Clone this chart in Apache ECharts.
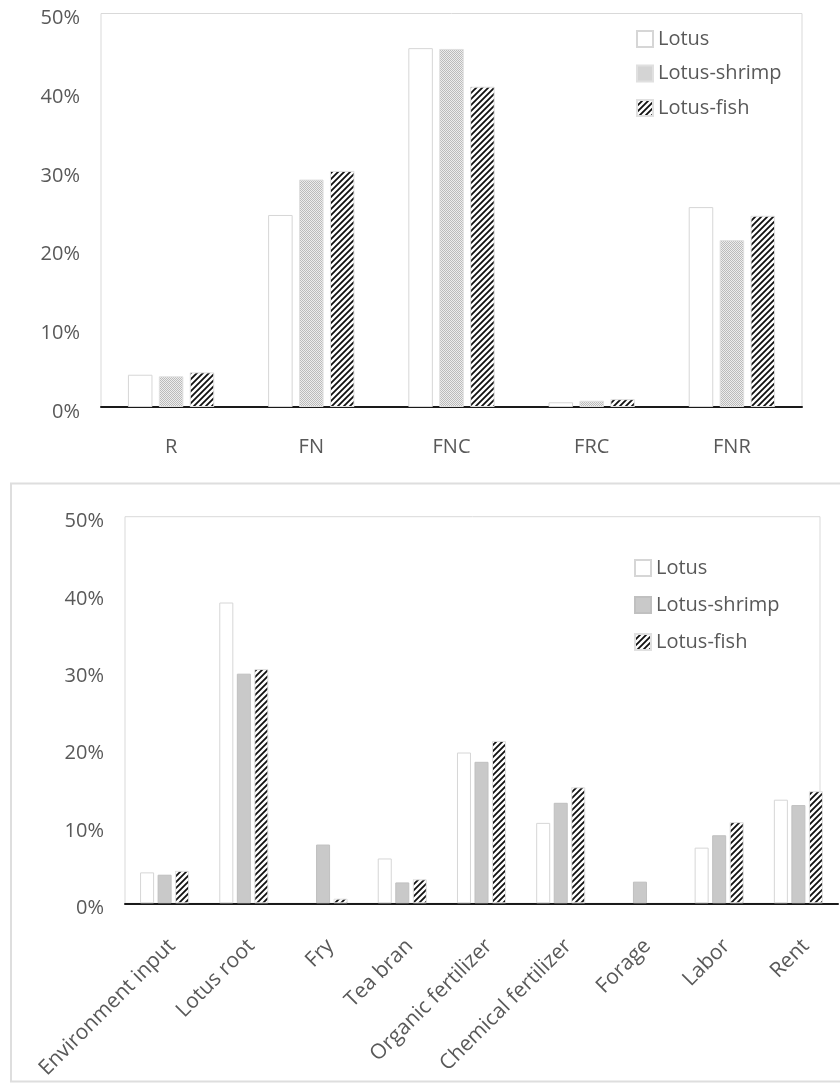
<!DOCTYPE html>
<html>
<head>
<meta charset="utf-8">
<script src="https://cdn.jsdelivr.net/npm/echarts@6/dist/echarts.min.js"></script>
<style>
  html, body { margin: 0; padding: 0; background: #fff; }
  #c1 { position: absolute; left: 0; top: 0; width: 840px; height: 470px; }
  #c2 { position: absolute; left: 0; top: 470px; width: 840px; height: 613px; }
</style>
</head>
<body>
<div id="c1"></div>
<div id="c2"></div>
<script>
// ---------- data ----------
const seriesNames = ['Lotus', 'Lotus-shrimp', 'Lotus-fish'];
const yTicks = [0, 10, 20, 30, 40, 50];

const topCategories = ['R', 'FN', 'FNC', 'FRC', 'FNR'];
const topLotus  = [4.1, 24.4, 45.6, 0.6, 25.4];
const topShrimp = [3.9, 28.9, 45.5, 0.8, 21.2];
const topFish   = [4.4, 30.0, 40.7, 1.0, 24.3];

const bottomCategories = ['Environment input', 'Lotus root', 'Fry', 'Tea bran',
  'Organic fertilizer', 'Chemical fertilizer', 'Forage', 'Labor', 'Rent'];
const bottomLotus  = [4.0, 38.9, 0, 5.8, 19.5, 10.4, 0, 7.2, 13.4];
const bottomShrimp = [3.7, 29.7, 7.6, 2.7, 18.3, 13.0, 2.8, 8.8, 12.7];
const bottomFish   = [4.2, 30.3, 0.6, 3.1, 21.0, 15.0, 0, 10.5, 14.5];

// zero values draw no bar at all
const noZero = arr => arr.map(v => (v === 0 ? null : v));

// ---------- patterns ----------
function makeStripe() {
  const s = 6;
  const c = document.createElement('canvas');
  c.width = s; c.height = s;
  const g = c.getContext('2d');
  g.fillStyle = '#ffffff'; g.fillRect(0, 0, s, s);
  g.strokeStyle = '#111111'; g.lineWidth = 1.8;
  g.beginPath();
  g.moveTo(-1, s + 1); g.lineTo(s + 1, -1);
  g.moveTo(-1, 1); g.lineTo(1, -1);
  g.moveTo(s - 1, s + 1); g.lineTo(s + 1, s - 1);
  g.stroke();
  return c;
}
function makeDots() {
  const c = document.createElement('canvas');
  c.width = 2; c.height = 2;
  const g = c.getContext('2d');
  g.fillStyle = '#ededed'; g.fillRect(0, 0, 2, 2);
  g.fillStyle = '#bbbbbb';
  g.fillRect(0, 0, 1, 1); g.fillRect(1, 1, 1, 1);
  return c;
}
const stripePattern = { image: makeStripe(), repeat: 'repeat' };
const dotPattern = { image: makeDots(), repeat: 'repeat' };

const FONT = "'Open Sans', 'Noto Sans', sans-serif";
const TXT = '#595959';

function yAxisCfg() {
  return {
    type: 'value', min: yTicks[0], max: yTicks[yTicks.length - 1], interval: 10,
    axisLine: { show: false }, axisTick: { show: false }, splitLine: { show: false },
    axisLabel: { formatter: '{value}%', color: TXT, fontSize: 20, fontFamily: FONT,
      margin: 21, verticalAlign: 'top', lineHeight: 10 }
  };
}
function legendCfg(left, top, gap) {
  return {
    orient: 'vertical', left: left, top: top, itemWidth: 16, itemHeight: 16, itemGap: gap,
    icon: 'rect', data: seriesNames, selectedMode: false,
    textStyle: { color: TXT, fontSize: 20, fontFamily: FONT }
  };
}
function barSeries(name, data, style, barWidth, gap, catGap) {
  return {
    name: name, type: 'bar', data: noZero(data), barWidth: barWidth, barGap: gap,
    barCategoryGap: catGap, itemStyle: style, silent: true, animation: false
  };
}

// ---------- top chart ----------
const chart1 = echarts.init(document.getElementById('c1'), null, { renderer: 'canvas' });
chart1.setOption({
  animation: false,
  grid: { left: 101, top: 13.5, width: 701, height: 393.5, show: true,
    borderColor: '#d9d9d9', borderWidth: 1, backgroundColor: 'transparent' },
  legend: legendCfg(631, 24, 14.5),
  xAxis: {
    type: 'category', data: topCategories,
    axisLine: { lineStyle: { color: '#1a1a1a', width: 2 } },
    axisTick: { show: false },
    axisLabel: { color: TXT, fontSize: 20, fontFamily: FONT, margin: 30 }
  },
  yAxis: yAxisCfg(),
  series: [
    barSeries('Lotus', topLotus, { color: '#ffffff', borderColor: '#d6d6d6', borderWidth: 1 }, '17.5%', '26%', '38%'),
    barSeries('Lotus-shrimp', topShrimp, { color: dotPattern, borderColor: '#e0e0e0', borderWidth: 1 }, '17.5%', '26%', '38%'),
    barSeries('Lotus-fish', topFish, { color: stripePattern, borderColor: '#e0e0e0', borderWidth: 1 }, '17.5%', '26%', '38%')
  ]
});

// ---------- bottom chart ----------
const chart2 = echarts.init(document.getElementById('c2'), null, { renderer: 'canvas' });
chart2.setOption({
  animation: false,
  graphic: [
    { type: 'rect', shape: { x: 11, y: 13.5, width: 860, height: 598 },
      style: { fill: 'none', stroke: '#dedede', lineWidth: 2 }, silent: true, z: -10 },
    { type: 'rect', shape: { x: 125, y: 46.7, width: 695, height: 386.6 },
      style: { fill: 'none', stroke: '#d9d9d9', lineWidth: 1 }, silent: true, z: -5 }
  ],
  grid: { left: 125, top: 46.7, width: 713, height: 386.6 },
  legend: legendCfg(629, 83, 17),
  xAxis: {
    type: 'category', data: bottomCategories,
    axisLine: { lineStyle: { color: '#1a1a1a', width: 2 } },
    axisTick: { show: false },
    axisLabel: { color: TXT, fontSize: 21, fontFamily: FONT, interval: 0, rotate: 45,
      margin: 32, verticalAlign: 'top', align: 'right' }
  },
  yAxis: yAxisCfg(),
  series: [
    barSeries('Lotus', bottomLotus, { color: '#ffffff', borderColor: '#d6d6d6', borderWidth: 1 }, '17.7%', '25%', '38%'),
    barSeries('Lotus-shrimp', bottomShrimp, { color: '#c9c9c9', borderColor: '#c0c0c0', borderWidth: 1 }, '17.7%', '25%', '38%'),
    barSeries('Lotus-fish', bottomFish, { color: stripePattern, borderColor: '#e0e0e0', borderWidth: 1 }, '17.7%', '25%', '38%')
  ]
});
</script>
</body>
</html>
